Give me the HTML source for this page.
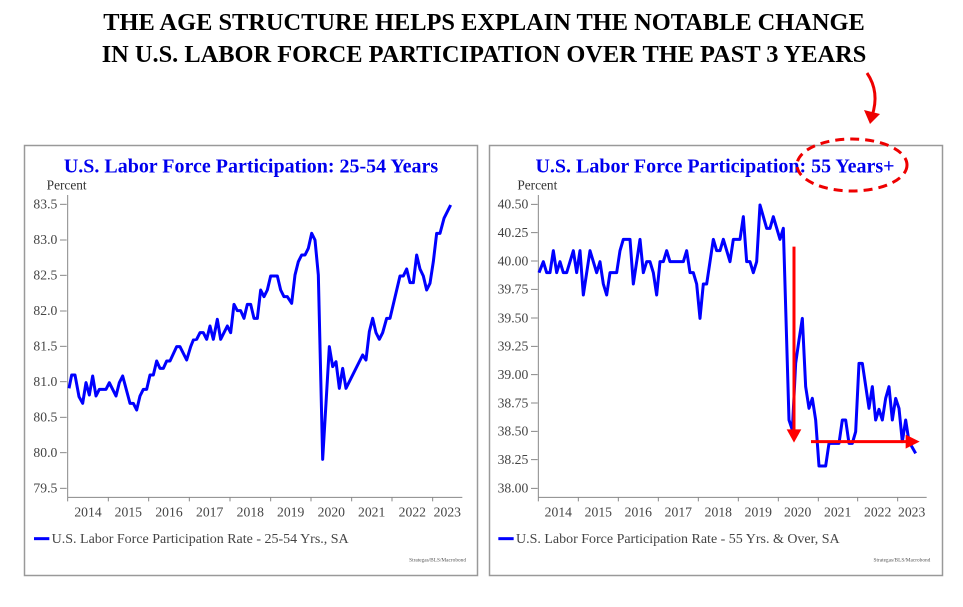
<!DOCTYPE html>
<html><head><meta charset="utf-8"><style>
body{margin:0;background:#fff;width:963px;height:602px;overflow:hidden;font-family:"Liberation Serif",serif}
</style></head><body>
<svg width="963" height="602" xmlns="http://www.w3.org/2000/svg" font-family="Liberation Serif, serif">
<text x="484" y="30" font-size="24.4" font-weight="bold" text-anchor="middle">THE AGE STRUCTURE HELPS EXPLAIN THE NOTABLE CHANGE</text>
<text x="484" y="62" font-size="24.4" font-weight="bold" text-anchor="middle">IN U.S. LABOR FORCE PARTICIPATION OVER THE PAST 3 YEARS</text>

<rect x="24.5" y="145.5" width="453" height="430" fill="none" stroke="#999" stroke-width="1.5"/>
<rect x="489.5" y="145.5" width="453" height="430" fill="none" stroke="#999" stroke-width="1.5"/>

<g transform="translate(20,140) scale(0.33333)">
<text x="693" y="97" font-size="60" font-weight="bold" fill="#0000ee" text-anchor="middle">U.S. Labor Force Participation: 25-54 Years</text>
<text x="80" y="148" font-size="40" fill="#333">Percent</text>
<g font-size="41" fill="#444" text-anchor="end">
<text x="112" y="206">83.5</text><text x="112" y="312">83.0</text><text x="112" y="419">82.5</text><text x="112" y="525">82.0</text><text x="112" y="631">81.5</text><text x="112" y="738">81.0</text><text x="112" y="844">80.5</text><text x="112" y="951">80.0</text><text x="112" y="1057">79.5</text>
</g>
<g stroke="#888" stroke-width="3">
<line x1="120" y1="193" x2="140" y2="193"/><line x1="120" y1="300" x2="140" y2="300"/><line x1="120" y1="406" x2="140" y2="406"/><line x1="120" y1="513" x2="140" y2="513"/><line x1="120" y1="619" x2="140" y2="619"/><line x1="120" y1="725" x2="140" y2="725"/><line x1="120" y1="832" x2="140" y2="832"/><line x1="120" y1="938" x2="140" y2="938"/><line x1="120" y1="1045" x2="140" y2="1045"/>
<line x1="143" y1="165" x2="143" y2="1072"/><line x1="143" y1="1072" x2="1327" y2="1072"/>
<path d="M143 1072v12M265 1072v12M386 1072v12M508 1072v12M630 1072v12M752 1072v12M873 1072v12M995 1072v12M1116 1072v12M1238 1072v12"/>
</g>
<g font-size="41" fill="#444" text-anchor="middle">
<text x="204" y="1130">2014</text><text x="325" y="1130">2015</text><text x="447" y="1130">2016</text><text x="569" y="1130">2017</text><text x="691" y="1130">2018</text><text x="812" y="1130">2019</text><text x="934" y="1130">2020</text><text x="1055" y="1130">2021</text><text x="1177" y="1130">2022</text><text x="1282" y="1130">2023</text>
</g>
<line x1="42" y1="1196" x2="88" y2="1196" stroke="#0000ff" stroke-width="9"/>
<text x="95" y="1209" font-size="42" fill="#444">U.S. Labor Force Participation Rate - 25-54 Yrs., SA</text>
<text x="1338" y="1265" font-size="16" fill="#555" text-anchor="end">Strategas/BLS/Macrobond</text>
<polyline fill="none" stroke="#0000ff" stroke-width="9" stroke-linejoin="round" points="147,745 155,705 165,705 177,770 188,790 198,728 208,765 218,708 228,768 238,748 258,748 268,728 288,768 298,728 308,708 330,790 340,790 350,810 360,768 370,748 380,748 390,705 400,705 410,663 420,685 430,685 440,663 450,663 470,620 480,620 500,660 512,620 520,600 530,598 540,578 550,578 560,598 570,558 580,598 592,538 602,598 622,558 632,578 642,493 652,512 662,512 672,535 682,493 692,493 702,535 712,535 722,450 732,470 742,450 752,408 772,408 782,450 792,470 802,470 815,490 825,405 835,365 845,345 855,345 865,325 875,280 885,300 895,405 908,958 918,790 928,620 938,680 948,665 958,745 968,685 978,745 1028,645 1038,660 1048,575 1058,535 1068,578 1078,598 1088,578 1100,535 1110,535 1140,408 1150,408 1160,387 1170,428 1180,428 1190,345 1200,387 1210,408 1220,450 1230,430 1240,365 1250,280 1260,280 1272,235 1292,195"/>
</g>

<g transform="translate(485,140) scale(0.33333)">
<text x="690" y="97" font-size="60" font-weight="bold" fill="#0000ee" text-anchor="middle">U.S. Labor Force Participation: 55 Years+</text>
<text x="97" y="148" font-size="40" fill="#333">Percent</text>
<g font-size="41" fill="#444" text-anchor="end">
<text x="130" y="206">40.50</text><text x="130" y="291">40.25</text><text x="130" y="376">40.00</text><text x="130" y="461">39.75</text><text x="130" y="547">39.50</text><text x="130" y="632">39.25</text><text x="130" y="717">39.00</text><text x="130" y="802">38.75</text><text x="130" y="887">38.50</text><text x="130" y="972">38.25</text><text x="130" y="1057">38.00</text>
</g>
<g stroke="#888" stroke-width="3">
<path d="M138 193h20M138 278h20M138 363h20M138 448h20M138 534h20M138 619h20M138 704h20M138 789h20M138 874h20M138 959h20M138 1045h20"/>
<line x1="160" y1="165" x2="160" y2="1072"/><line x1="160" y1="1072" x2="1325" y2="1072"/>
<path d="M160 1072v12M280 1072v12M400 1072v12M520 1072v12M640 1072v12M760 1072v12M880 1072v12M1000 1072v12M1118 1072v12M1238 1072v12"/>
</g>
<g font-size="41" fill="#444" text-anchor="middle">
<text x="220" y="1130">2014</text><text x="340" y="1130">2015</text><text x="460" y="1130">2016</text><text x="580" y="1130">2017</text><text x="700" y="1130">2018</text><text x="820" y="1130">2019</text><text x="938" y="1130">2020</text><text x="1058" y="1130">2021</text><text x="1178" y="1130">2022</text><text x="1280" y="1130">2023</text>
</g>
<line x1="40" y1="1196" x2="86" y2="1196" stroke="#0000ff" stroke-width="9"/>
<text x="93" y="1209" font-size="42" fill="#444">U.S. Labor Force Participation Rate - 55 Yrs. &amp; Over, SA</text>
<text x="1336" y="1265" font-size="16" fill="#555" text-anchor="end">Strategas/BLS/Macrobond</text>
<polyline fill="none" stroke="#0000ff" stroke-width="9" stroke-linejoin="round" points="162,398 175,365 185,398 195,398 205,332 215,398 225,365 235,398 245,398 265,332 275,398 285,332 295,465 315,332 335,398 345,365 355,432 365,465 375,398 395,398 405,332 415,298 435,298 445,432 465,298 475,398 485,365 495,365 505,398 515,465 525,365 535,365 545,332 555,365 595,365 605,332 615,398 625,398 635,432 645,535 655,432 665,432 685,298 695,332 705,332 715,298 735,365 745,298 765,298 775,230 785,365 795,365 805,398 815,365 825,195 845,265 855,265 865,230 885,298 895,265 912,840 922,870 932,670 942,600 952,535 962,740 972,805 982,775 992,840 1002,978 1022,978 1032,910 1062,910 1072,840 1082,840 1092,910 1102,910 1112,875 1122,670 1132,670 1152,805 1162,740 1172,840 1182,808 1192,840 1202,775 1212,740 1222,840 1232,775 1242,805 1252,905 1262,840 1272,905 1292,940"/>
<line x1="927" y1="320" x2="927" y2="875" stroke="#ff0000" stroke-width="9"/>
<polygon points="905,868 949,868 927,908" fill="#ff0000"/>
<line x1="978" y1="905" x2="1270" y2="905" stroke="#ff0000" stroke-width="9"/>
<polygon points="1262,884 1262,926 1304,905" fill="#ff0000"/>
</g>
<ellipse cx="852" cy="165" rx="55" ry="26" fill="none" stroke="#ee0000" stroke-width="3" stroke-dasharray="9,6"/>
<path d="M867 73 Q880 92 872 116" fill="none" stroke="#ee0000" stroke-width="3"/>
<polygon points="864,110 880,114 870,124" fill="#ee0000"/>
</svg>
</body></html>
